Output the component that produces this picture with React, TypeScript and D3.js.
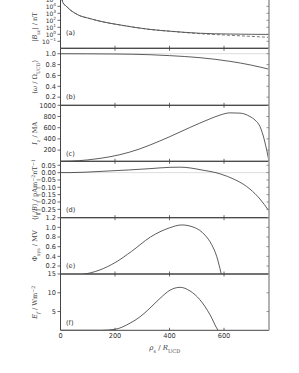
import React, { useEffect, useRef } from "react";
import * as d3 from "d3";

// radial distance in units of R_UCD
const rhoB = [2, 4, 6, 10, 20, 35, 50, 72, 100, 145, 218, 328, 400, 512, 620, 700, 765];
const logBsc = [6.6, 5.3, 4.9, 4.45, 4.07, 3.5, 3.1, 2.64, 2.33, 1.87, 1.34, 0.7, 0.45, 0.15, 0.04, 0.0, -0.02];
const rhoBdip = [2, 4, 6, 10, 20, 35, 50, 72, 100, 145, 218, 328, 400, 512, 622, 700, 765];
const logBdip = [6.6, 5.3, 4.9, 4.45, 4.07, 3.5, 3.1, 2.64, 2.33, 1.87, 1.34, 0.7, 0.44, 0.09, -0.14, -0.3, -0.43];

const rhoOmega = [0, 100, 200, 328, 400, 512, 622, 700, 765];
const omega = [1.0, 0.998, 0.995, 0.982, 0.965, 0.927, 0.86, 0.79, 0.715];

const rhoIz = [0, 40, 100, 145, 218, 290, 328, 401, 473, 547, 585, 622, 659, 695, 714, 732, 748, 757, 765];
const Iz = [0, 4, 25, 52, 118, 220, 290, 440, 600, 755, 825, 865, 860, 800, 735, 620, 380, 190, 0];

const rhoJ = [0, 35, 145, 250, 328, 402, 439, 475, 512, 585, 640, 670, 695, 732, 765];
const jpar = [0, 0.0, 0.008, 0.018, 0.027, 0.036, 0.037, 0.032, 0.02, -0.008, -0.048, -0.078, -0.112, -0.18, -0.262];

const rhoPhi = [0, 40, 75, 145, 200, 260, 330, 400, 445, 490, 530, 555, 573, 585, 595];
const phiSys = [0, 0.0, 0.02, 0.12, 0.27, 0.5, 0.8, 0.99, 1.05, 1.0, 0.84, 0.64, 0.4, 0.15, -0.1];

const rhoE = [0, 150, 200, 255, 292, 328, 365, 402, 439, 475, 512, 549, 578, 590];
const Ef = [0, 0.0, 0.27, 1.9, 3.6, 5.9, 8.5, 10.7, 11.45, 10.5, 8.1, 4.1, 0.0, -1];

const xTicks = [0, 200, 400, 600];
const bExps = [-1, 0, 1, 2, 3, 4, 5];
const omegaTicks = [0.2, 0.4, 0.6, 0.8, 1.0];
const izTicks = [200, 400, 600, 800, 1000];
const jTicks = [-0.25, -0.2, -0.15, -0.1, -0.05, 0.0, 0.05];
const phiTicks = [0.2, 0.4, 0.6, 0.8, 1.0, 1.2];
const efTicks = [5, 10, 15];

const W = 299;
const H = 373;
const left = 60.5;
const right = 269;
const tickFont = "'DejaVu Sans', sans-serif";
const mathFont = "'DejaVu Serif', serif";

type Seg = { t: string; it?: boolean; sub?: boolean; sup?: boolean };

const App: React.FC = () => {
  const ref = useRef<SVGSVGElement | null>(null);

  useEffect(() => {
    if (!ref.current) return;
    const svg = d3.select(ref.current);
    svg.selectAll("*").remove();

    const x = d3.scaleLinear().domain([0, 765]).range([left, right]);

    const panels = [
      {
        id: "a", top: -8.5, bottom: 48.3, label: "(a)", labelY: 33,
        y: d3.scaleLog().domain([1e-2, Math.pow(10, 6.12)]).range([48.3, -8.5]),
        ticks: bExps.map((e) => Math.pow(10, e)),
        fmt: (v: number) => "log",
        series: [
          { xs: rhoB, ys: logBsc.map((v) => Math.pow(10, v)), dash: null, color: "#333" },
          { xs: rhoBdip, ys: logBdip.map((v) => Math.pow(10, v)), dash: "3,2", color: "#555" },
        ],
        ref0: null as number | null,
        ylab: [{ t: "|" }, { t: "B", it: true }, { t: "sc", sub: true }, { t: "| / nT" }] as Seg[],
      },
      {
        id: "b", top: 48.3, bottom: 105.3, label: "(b)", labelY: 97,
        y: d3.scaleLinear().domain([0.05, 1.1]).range([105.3, 48.3]),
        ticks: omegaTicks,
        fmt: (v: number) => d3.format(".1f")(v),
        series: [{ xs: rhoOmega, ys: omega, dash: null, color: "#333" }],
        ref0: 1.0,
        ylab: [{ t: "⟨" }, { t: "ω", it: true }, { t: " / Ω" }, { t: "UCD", sub: true }, { t: "⟩" }] as Seg[],
      },
      {
        id: "c", top: 105.3, bottom: 161.3, label: "(c)", labelY: 154,
        y: d3.scaleLinear().domain([0, 1000]).range([161.3, 105.3]),
        ticks: izTicks,
        fmt: (v: number) => String(v),
        series: [{ xs: rhoIz, ys: Iz, dash: null, color: "#333" }],
        ref0: null,
        ylab: [{ t: "I", it: true }, { t: "z", it: true, sub: true }, { t: " / MA" }] as Seg[],
      },
      {
        id: "d", top: 161.3, bottom: 217.7, label: "(d)", labelY: 209.3,
        y: d3.scaleLinear().domain([-0.307, 0.077]).range([217.7, 161.3]),
        ticks: jTicks,
        fmt: (v: number) => d3.format(".2f")(v).replace("-", "\u2212"),
        series: [{ xs: rhoJ, ys: jpar, dash: null, color: "#333" }],
        ref0: 0,
        ylab: [
          { t: "⟨" }, { t: "j", it: true }, { t: "∥", sub: true }, { t: "/" }, { t: "B", it: true },
          { t: "⟩ / pAm" }, { t: "−2", sup: true }, { t: "nT" }, { t: "−1", sup: true },
        ] as Seg[],
      },
      {
        id: "e", top: 217.7, bottom: 274, label: "(e)", labelY: 266,
        y: d3.scaleLinear().domain([0.035, 1.2]).range([274, 217.7]),
        ticks: phiTicks,
        fmt: (v: number) => d3.format(".1f")(v),
        series: [{ xs: rhoPhi, ys: phiSys, dash: null, color: "#333" }],
        ref0: null,
        ylab: [{ t: "Φ" }, { t: "sys", sub: true }, { t: " / MV" }] as Seg[],
      },
      {
        id: "f", top: 274, bottom: 330.3, label: "(f)", labelY: 322.7,
        y: d3.scaleLinear().domain([0, 15]).range([330.3, 274]),
        ticks: efTicks,
        fmt: (v: number) => String(v),
        series: [{ xs: rhoE, ys: Ef, dash: null, color: "#333" }],
        ref0: null,
        ylab: [{ t: "E", it: true }, { t: "f", it: true, sub: true }, { t: " / Wm" }, { t: "−2", sup: true }] as Seg[],
      },
    ];

    const defs = svg.append("defs");

    panels.forEach((p) => {
      const g = svg.append("g");
      defs.append("clipPath").attr("id", `clip-${p.id}`)
        .append("rect")
        .attr("x", left).attr("y", p.top)
        .attr("width", right - left).attr("height", p.bottom - p.top);

      const plot = g.append("g").attr("clip-path", `url(#clip-${p.id})`);

      if (p.ref0 !== null) {
        plot.append("line")
          .attr("x1", left).attr("x2", right)
          .attr("y1", p.y(p.ref0)).attr("y2", p.y(p.ref0))
          .attr("stroke", "#aaa").attr("stroke-width", 0.8)
          .attr("stroke-dasharray", "1,1");
      }

      p.series.forEach((s) => {
        const pts = s.xs.map((xv, i) => [xv, s.ys[i]] as [number, number]);
        const line = d3.line<[number, number]>()
          .x((d) => x(d[0]))
          .y((d) => (p.y as any)(d[1]))
          .curve(d3.curveMonotoneX);
        plot.append("path")
          .attr("d", line(pts) as string)
          .attr("fill", "none")
          .attr("stroke", s.color)
          .attr("stroke-width", 0.8)
          .attr("stroke-dasharray", s.dash ?? null);
      });

      // frame
      g.append("line").attr("x1", left).attr("x2", right).attr("y1", p.top).attr("y2", p.top)
        .attr("stroke", "#444").attr("stroke-width", 1);
      g.append("line").attr("x1", left).attr("x2", right).attr("y1", p.bottom).attr("y2", p.bottom)
        .attr("stroke", "#444").attr("stroke-width", 1);
      g.append("line").attr("x1", left).attr("x2", left).attr("y1", p.top).attr("y2", p.bottom)
        .attr("stroke", "#444").attr("stroke-width", 1);
      g.append("line").attr("x1", right).attr("x2", right).attr("y1", p.top).attr("y2", p.bottom)
        .attr("stroke", "#aaa").attr("stroke-width", 1.8);

      // x ticks (inward, top and bottom)
      xTicks.filter((t) => t > 0).forEach((t) => {
        g.append("line").attr("x1", x(t)).attr("x2", x(t))
          .attr("y1", p.top).attr("y2", p.top + 2.5).attr("stroke", "#444").attr("stroke-width", 0.8);
        g.append("line").attr("x1", x(t)).attr("x2", x(t))
          .attr("y1", p.bottom).attr("y2", p.bottom - 2.5).attr("stroke", "#444").attr("stroke-width", 0.8);
      });

      // y ticks
      p.ticks.forEach((t) => {
        const yy = (p.y as any)(t) as number;
        g.append("line").attr("x1", left - 3).attr("x2", left).attr("y1", yy).attr("y2", yy)
          .attr("stroke", "#444").attr("stroke-width", 0.8);
        g.append("line").attr("x1", right - 2.5).attr("x2", right).attr("y1", yy).attr("y2", yy)
          .attr("stroke", "#777").attr("stroke-width", 0.8);
        const txt = g.append("text")
          .attr("x", left - 4.5).attr("y", yy)
          .attr("dy", "0.35em")
          .attr("text-anchor", "end")
          .attr("font-family", tickFont)
          .attr("font-size", p.id === "a" ? 6 : 6.6)
          .attr("fill", "#333");
        if (p.id === "a") {
          const e = Math.round(Math.log10(t));
          txt.append("tspan").attr("dy", "0.45em").text("10");
          txt.append("tspan").attr("font-size", 4.3).attr("dy", "-0.75em")
            .text(e < 0 ? "\u2212" + Math.abs(e) : String(e));
        } else {
          txt.text(p.fmt(t));
        }
      });

      // panel letter
      g.append("text")
        .attr("x", 66).attr("y", p.labelY).attr("dy", "0.35em")
        .attr("font-family", tickFont).attr("font-size", 6.6).attr("fill", "#333")
        .text(p.label);

      // y label
      const cy = p.id === "a" ? 27 : (p.top + p.bottom) / 2;
      const yl = g.append("text")
        .attr("transform", `translate(35,${cy}) rotate(-90)`)
        .attr("text-anchor", "middle")
        .attr("dy", "0.35em")
        .attr("font-family", mathFont)
        .attr("font-size", 6.6)
        .attr("fill", "#444");
      p.ylab.forEach((s) => {
        const ts = yl.append("tspan").text(s.t);
        if (s.it) ts.attr("font-style", "italic");
        if (s.sub) ts.attr("font-size", 4.8).attr("baseline-shift", "sub");
        if (s.sup) ts.attr("font-size", 4.8).attr("baseline-shift", "super");
      });
    });

    // x tick labels
    xTicks.forEach((t) => {
      svg.append("text")
        .attr("x", x(t)).attr("y", 335.5).attr("dy", "0.35em")
        .attr("text-anchor", "middle")
        .attr("font-family", tickFont).attr("font-size", 6.6).attr("fill", "#333")
        .text(String(t));
    });

    const xl = svg.append("text")
      .attr("x", (left + right) / 2).attr("y", 348).attr("dy", "0.35em")
      .attr("text-anchor", "middle")
      .attr("font-family", mathFont).attr("font-size", 7).attr("fill", "#444");
    xl.append("tspan").attr("font-style", "italic").text("ρ");
    xl.append("tspan").attr("font-size", 5).attr("baseline-shift", "sub").text("s");
    xl.append("tspan").text(" / ");
    xl.append("tspan").attr("font-style", "italic").text("R");
    xl.append("tspan").attr("font-size", 5).attr("baseline-shift", "sub").text("UCD");
  }, []);

  return (
    <svg
      ref={ref}
      width={W}
      height={H}
      style={{ position: "absolute", left: 0, top: 0, background: "#fff" }}
    />
  );
};

export default App;
